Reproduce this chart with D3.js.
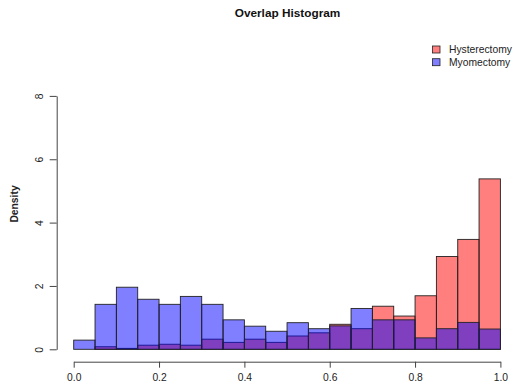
<!DOCTYPE html>
<html>
<head>
<meta charset="utf-8">
<script src="https://cdn.jsdelivr.net/npm/d3@7"></script>
<style>
  html, body { margin: 0; padding: 0; background: #fff; }
  svg { display: block; font-family: "Liberation Sans", Arial, sans-serif; }
</style>
</head>
<body>
<svg id="chart" width="513" height="385"></svg>
<script>
// Bin edges (width 0.05)
const binStarts = [0.00,0.05,0.10,0.15,0.20,0.25,0.30,0.35,0.40,0.45,0.50,0.55,0.60,0.65,0.70,0.75,0.80,0.85,0.90,0.95];
const binWidth = 0.05;
// Densities
const hysterectomy = [0.00,0.08,0.03,0.13,0.16,0.13,0.32,0.22,0.32,0.22,0.42,0.52,0.79,0.65,1.36,1.05,1.69,2.93,3.47,5.38];
const myomectomy   = [0.29,1.42,1.96,1.58,1.42,1.67,1.42,0.93,0.73,0.57,0.84,0.65,0.74,1.29,0.93,0.93,0.36,0.65,0.85,0.64];
const xTicks = [0.0,0.2,0.4,0.6,0.8,1.0];
const yTicks = [0,2,4,6,8];
const seriesNames = ["Hysterectomy","Myomectomy"];
const seriesColors = ["rgba(255,0,0,0.5)","rgba(0,0,255,0.5)"];

const svg = d3.select("#chart");
const x = d3.scaleLinear().domain([0,1]).range([73.7,500.4]);
const y = d3.scaleLinear().domain([0,8]).range([349.3,95.9]);

// Bars
[hysterectomy, myomectomy].forEach((vals, si) => {
  svg.append("g").selectAll("rect").data(vals).join("rect")
    .attr("x", (d,i) => x(binStarts[i]))
    .attr("width", (d,i) => x(binStarts[i]+binWidth) - x(binStarts[i]))
    .attr("y", d => y(d))
    .attr("height", d => y(0) - y(d))
    .attr("fill", seriesColors[si])
    .attr("stroke", d => d > 0 ? "#222" : "none")
    .attr("stroke-width", 0.9);
});

// X axis
const xAxis = svg.append("g").attr("transform","translate(0,361.7)")
  .call(d3.axisBottom(x).tickValues(xTicks).tickFormat(d3.format(".1f")).tickSize(6).tickSizeOuter(0));
xAxis.select(".domain").attr("stroke","#444");
xAxis.selectAll(".tick line").attr("stroke","#444");
xAxis.selectAll("text").attr("font-size","10.3px").attr("fill","#222").attr("dy","1.0em");

// Y axis
const yAxis = svg.append("g").attr("transform","translate(56.7,0)")
  .call(d3.axisLeft(y).tickValues(yTicks).tickFormat(d3.format("d")).tickSize(7).tickSizeOuter(0));
yAxis.select(".domain").attr("stroke","#444");
yAxis.selectAll(".tick line").attr("stroke","#444");
yAxis.selectAll(".tick text")
  .attr("font-size","10.3px").attr("fill","#222")
  .attr("text-anchor","middle")
  .attr("transform","translate(-17.5,0) rotate(-90)")
  .attr("x",0).attr("y",0).attr("dy","0.35em");

// Y label
svg.append("text")
  .attr("transform","translate(14.5,204) rotate(-90)")
  .attr("text-anchor","middle").attr("dy","0.35em")
  .attr("font-size","10.3px").attr("font-weight","bold").attr("fill","#222")
  .text("Density");

// Title
svg.append("text")
  .attr("x", 287.5).attr("y", 16.5)
  .attr("text-anchor","middle")
  .attr("font-size","11.8px").attr("font-weight","bold").attr("fill","#111")
  .text("Overlap Histogram");

// Legend
const leg = svg.append("g");
seriesNames.forEach((name, i) => {
  const yy = 49.5 + i*12.7;
  leg.append("rect").attr("x",432.5).attr("y",yy-3.5).attr("width",7.5).attr("height",7)
    .attr("fill",seriesColors[i]).attr("stroke","#222").attr("stroke-width",0.8);
  leg.append("text").attr("x",449).attr("y",yy).attr("dy","0.35em")
    .attr("font-size","10.3px").attr("fill","#222").text(name);
});
</script>
</body>
</html>
